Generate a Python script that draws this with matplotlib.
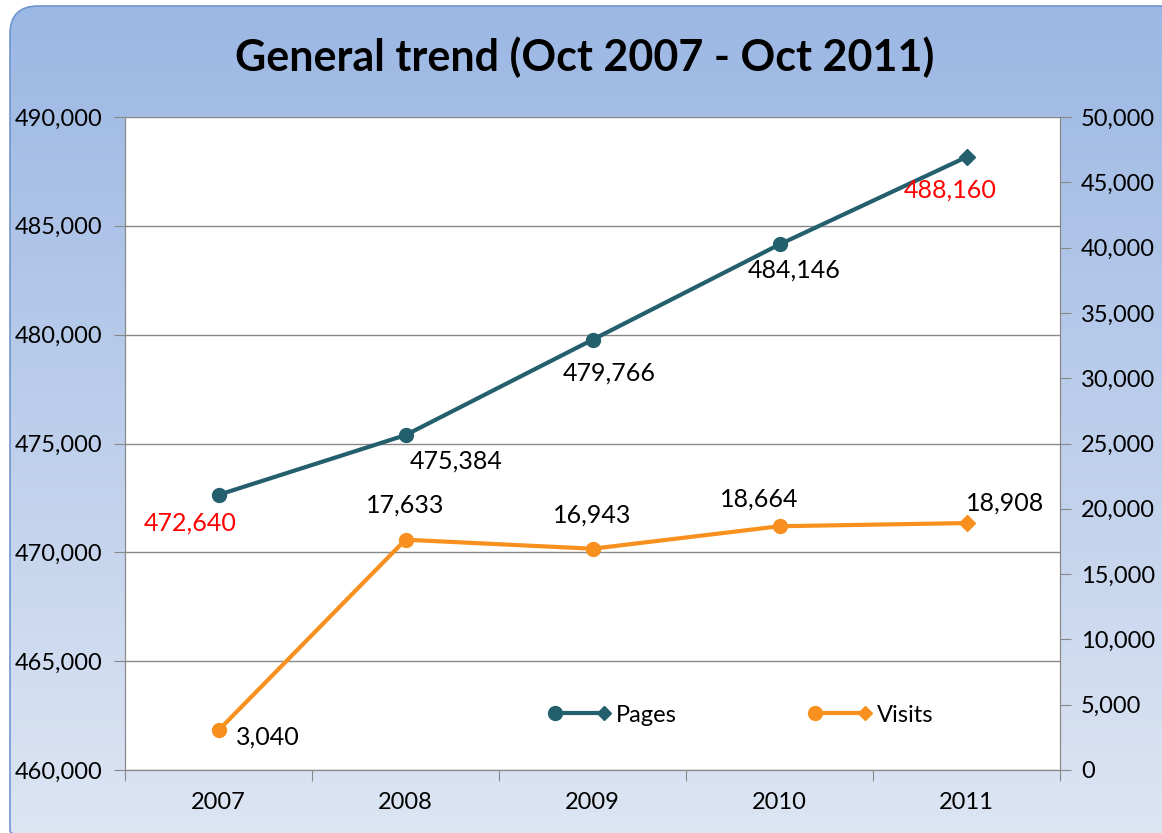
import matplotlib
matplotlib.use("Agg")
import matplotlib.pyplot as plt
import numpy as np
from matplotlib.patches import FancyBboxPatch
from matplotlib.legend_handler import HandlerBase
from matplotlib.lines import Line2D
from matplotlib.ticker import FuncFormatter

# 数据
years = ['2007', '2008', '2009', '2010', '2011']
pages = [472640, 475384, 479766, 484146, 488160]
visits = [3040, 17633, 16943, 18664, 18908]

# 标签偏移（像素）和颜色
pages_offsets = [(-28, -28), (51, -26), (17, -33), (15, -26), (-16, -33)]
pages_colors = ['red', 'black', 'black', 'black', 'red']
visits_offsets = [(49, -7), (0, 35), (0, 34), (-20, 27), (39, 20)]

c_pages = '#245F6D'
c_visits = '#F7901E'

plt.rcParams['font.family'] = ['Lato', 'DejaVu Sans']
plt.rcParams['axes.unicode_minus'] = False

W, H = 1162, 833
fig = plt.figure(figsize=(W / 100, H / 100), dpi=100)
fig.patch.set_facecolor('white')

# 背景渐变圆角框
bg = fig.add_axes([0, 0, 1, 1], zorder=-5)
bg.set_xlim(0, W)
bg.set_ylim(H, 0)
bg.axis('off')
top = np.array([155, 183, 227]) / 255
bot = np.array([221, 229, 243]) / 255
t = np.linspace(0, 1, 256)[:, None]
grad = (top[None, :] * (1 - t) + bot[None, :] * t)[:, None, :]
box = FancyBboxPatch((10, 6), W + 20, H + 20, boxstyle="round,pad=0,rounding_size=28",
                     facecolor='none', edgecolor='#6F96CE', lw=1.2)
bg.add_patch(box)
im = bg.imshow(grad, extent=[0, W, H, 0], aspect='auto')
im.set_clip_path(box)

fig.text(0.503, 0.9316, 'General trend (Oct 2007 - Oct 2011)', ha='center', va='center',
         fontsize=31, fontweight='bold')

ax = fig.add_axes([125 / W, 1 - 770 / H, 935 / W, 653 / H])
ax.set_facecolor('white')
ax2 = ax.twinx()

x = np.arange(len(years)) + 0.5

ax.plot(x, pages, color=c_pages, lw=3, zorder=3)
ax.plot(x[:-1], pages[:-1], 'o', color=c_pages, ms=10, zorder=4)
ax.plot(x[-1:], pages[-1:], 'D', color=c_pages, ms=8, zorder=4)

ax2.plot(x, visits, color=c_visits, lw=3, zorder=3)
ax2.plot(x[:-1], visits[:-1], 'o', color=c_visits, ms=10, zorder=4)
ax2.plot(x[-1:], visits[-1:], 'D', color=c_visits, ms=8, zorder=4)

for xi, v, off, col in zip(x, pages, pages_offsets, pages_colors):
    ax.annotate(f'{v:,}', (xi, v), xytext=off, textcoords='offset pixels',
                ha='center', va='center', fontsize=18, color=col)
for xi, v, off in zip(x, visits, visits_offsets):
    ax2.annotate(f'{v:,}', (xi, v), xytext=off, textcoords='offset pixels',
                 ha='center', va='center', fontsize=18, color='black')

ax.set_xlim(0, 5)
ax.set_ylim(460000, 490000)
ax2.set_ylim(0, 50000)
ax.set_yticks(np.arange(460000, 490001, 5000))
ax2.set_yticks(np.arange(0, 50001, 5000))
fmt = FuncFormatter(lambda v, p: f'{int(v):,}')
ax.yaxis.set_major_formatter(fmt)
ax2.yaxis.set_major_formatter(fmt)

ax.set_xticks(np.arange(0, 6))
ax.set_xticklabels([])
ax.set_xticks(x, minor=True)
ax.set_xticklabels(years, minor=True)
ax.tick_params(axis='x', which='minor', length=0, pad=16, labelsize=17)
ax.tick_params(axis='x', which='major', length=8, color='#888888')
ax.tick_params(axis='y', length=8, color='#888888', labelsize=17, pad=8)
ax2.tick_params(axis='y', length=8, color='#888888', labelsize=17, pad=7)

ax.grid(axis='y', color='#888888', lw=1)
ax.set_axisbelow(True)
for a in (ax, ax2):
    a.spines['top'].set_visible(False)
    for s in ('left', 'right', 'bottom'):
        a.spines[s].set_color('#888888')


# 图例：左侧圆点，右侧菱形
class EndHandler(HandlerBase):
    def create_artists(self, legend, orig, xd, yd, w, h, fontsize, trans):
        c = orig.get_color()
        y = -yd + h / 2
        x0, x1 = -xd, -xd + w
        ln = Line2D([x0, x1], [y, y], color=c, lw=3, transform=trans)
        m1 = Line2D([x0], [y], marker='o', ms=10, color=c, transform=trans)
        m2 = Line2D([x1], [y], marker='D', ms=7, color=c, transform=trans)
        return [ln, m1, m2]


h1 = Line2D([], [], color=c_pages)
h2 = Line2D([], [], color=c_visits)
ax2.legend([h1, h2], ['Pages', 'Visits'], handler_map={Line2D: EndHandler()},
           loc='center left', bbox_to_anchor=(0.437, 0.084), ncol=2, frameon=False,
           fontsize=17, handlelength=2.1, handletextpad=0.5, columnspacing=5.85)

fig.savefig('out.png', dpi=100)
